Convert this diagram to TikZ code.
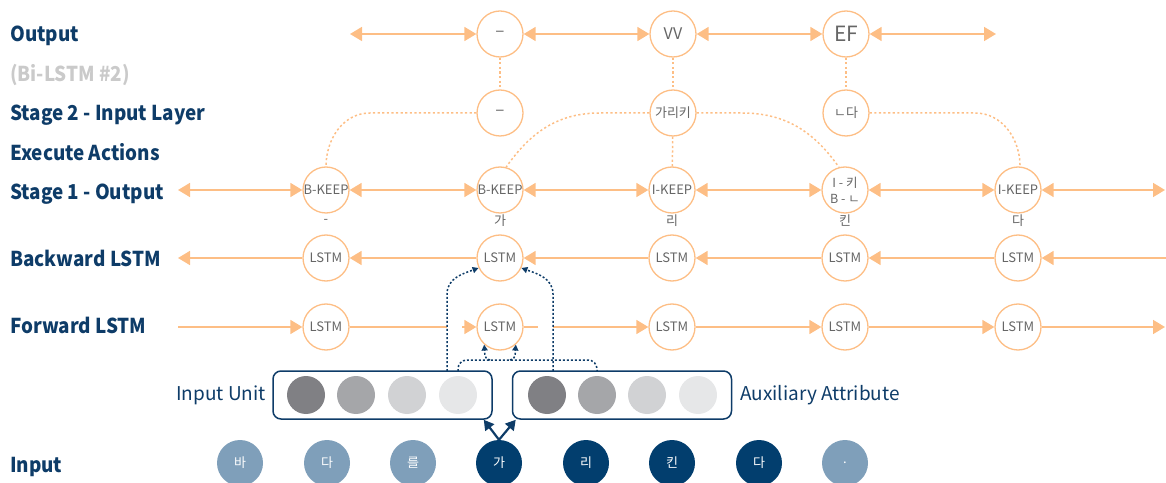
\documentclass[tikz,border=0pt]{standalone}
\usepackage{fontspec}
\usetikzlibrary{arrows.meta,calc}
\newfontfamily\kr{Noto Sans CJK KR}
\newfontfamily\krnarrow[FakeStretch=0.92]{Noto Sans CJK KR}
\definecolor{peach}{HTML}{FDBE85}
\definecolor{navy}{HTML}{0E3C68}
\definecolor{deep}{HTML}{023E6E}
\definecolor{steel}{HTML}{7F9FBA}
\definecolor{ink}{HTML}{666666}
\definecolor{mute}{HTML}{CACACA}
\definecolor{gA}{HTML}{808084}
\definecolor{gB}{HTML}{A5A6A9}
\definecolor{gC}{HTML}{D1D2D4}
\definecolor{gD}{HTML}{E6E7E8}
\begin{document}
\begin{tikzpicture}[x=1pt,y=1pt,
  cell/.style={circle, draw=peach, line width=1.3pt, fill=white, minimum size=46pt,
    inner sep=0pt, text=ink, font=\kr\fontsize{13}{14}\selectfont},
  flow/.style={peach, line width=1.6pt, -{Triangle[length=12pt,width=14pt]}},
  both/.style={peach, line width=1.6pt, {Triangle[length=12pt,width=14pt]}-{Triangle[length=12pt,width=14pt]}},
  plain/.style={peach, line width=1.6pt},
  trace/.style={peach, line width=1.5pt, dash pattern=on 2.2pt off 2.4pt},
  feed/.style={navy, line width=1.5pt, dash pattern=on 2pt off 2pt},
  side/.style={anchor=west, text=navy, text height=15pt, text depth=4pt, inner sep=0pt,
    font=\krnarrow\bfseries\fontsize{20.5}{22}\selectfont},
  tok/.style={circle, minimum size=46pt, inner sep=0pt, text=white, font=\kr\fontsize{13}{14}\selectfont},
  bead/.style={circle, minimum size=38pt, inner sep=0pt},
  panel/.style={draw=navy, line width=1.5pt, rounded corners=8pt, minimum width=219pt,
    minimum height=48pt, inner sep=0pt},
  note/.style={text=navy, inner sep=0pt, font=\kr\fontsize{19}{21}\selectfont},
  under/.style={text=ink, inner sep=0pt, font=\kr\fontsize{13}{14}\selectfont}
]
\useasboundingbox (0,0) rectangle (1166,482);

% row titles
\node[side] (tOut) at (10,446) {Output};
\node[side, text=mute] (tBi) at (10,406) {(Bi-LSTM \#2)};
\node[side] (tS2) at (10,367) {Stage 2 - Input Layer};
\node[side] (tEx) at (10,327) {Execute Actions};
\node[side] (tS1) at (10,288) {Stage 1 - Output};
\node[side] (tBw) at (10,221) {Backward LSTM};
\node[side] (tFw) at (10,154) {Forward LSTM};
\node[side] (tIn) at (10,15) {Input};

% output layer
\node[cell] (o2) at (500,448) {\fontsize{17}{18}\selectfont –};
\node[cell] (o3) at (673,448) {\fontsize{16}{17}\selectfont VV};
\node[cell] (o4) at (846,448) {\fontsize{21}{22}\selectfont EF};
\coordinate (oL) at (350,448);
\coordinate (oR) at (996,448);
\draw[both] (oL) -- (o2);
\draw[both] (o2) -- (o3);
\draw[both] (o3) -- (o4);
\draw[both] (o4) -- (oR);

% stage 2 input layer
\node[cell] (s2) at (500,369) {\fontsize{17}{18}\selectfont –};
\node[cell] (s3) at (673,369) {가리키};
\node[cell] (s4) at (846,369) {ㄴ다};
\draw[trace] (o2) -- (s2);
\draw[trace] (o3) -- (s3);
\draw[trace] (o4) -- (s4);

% stage 1 output
\node[cell] (a1) at (326,292) {B-KEEP};
\node[cell] (a2) at (500,292) {B-KEEP};
\node[cell] (a3) at (672,292) {I-KEEP};
\node[cell, align=center, font=\kr\fontsize{12.5}{16}\selectfont] (a4) at (845,292) {I - 키\\B - ㄴ};
\node[cell] (a5) at (1018,292) {I-KEEP};
\node[under] (u1) at (326,261) {-};
\node[under] (u2) at (500,261) {가};
\node[under] (u3) at (672,261) {리};
\node[under] (u4) at (845,261) {킨};
\node[under] (u5) at (1018,261) {다};
\coordinate (aL) at (178,292);
\coordinate (aR) at (1165,292);
\draw[both] (aL) -- (a1);
\draw[both] (a1) -- (a2);
\draw[both] (a2) -- (a3);
\draw[both] (a3) -- (a4);
\draw[both] (a4) -- (a5);
\draw[both] (a5) -- (aR);

% executed actions linking the two stages
\draw[trace] (s2.west) -- (370,369) to[out=180,in=90] (a1.north);
\draw[trace] (s3.west) -- (600,369) to[out=180,in=55] (a2.75);
\draw[trace] (s3.east) -- (742,369) to[out=0,in=125] (a4.105);
\draw[trace] (s4.east) -- (975,369) to[out=0,in=90] (a5.85);
\draw[trace] (s3) -- (a3);

% backward LSTM
\foreach \i/\x in {1/326,2/500,3/672,4/845,5/1018}
  \node[cell] (b\i) at (\x,224) {LSTM};
\coordinate (bL) at (178,224);
\coordinate (bR) at (1166,224);
\draw[flow] (bR) -- (b5);
\draw[flow] (b5) -- (b4);
\draw[flow] (b4) -- (b3);
\draw[flow] (b3) -- (b2);
\draw[flow] (b2) -- (b1);
\draw[flow] (b1) -- (bL);

% forward LSTM
\foreach \i/\x in {1/326,2/500,3/672,4/845,5/1018}
  \node[cell] (f\i) at (\x,155) {LSTM};
\coordinate (fL) at (178,155);
\coordinate (fR) at (1165,155);
\coordinate (g1) at (447,155);
\coordinate (g2) at (462,155);
\coordinate (g3) at (538,155);
\coordinate (g4) at (553,155);
\draw[flow] (fL) -- (f1);
\draw[plain] (f1) -- (g1);
\draw[flow] (g2) -- (f2);
\draw[plain] (f2) -- (g3);
\draw[flow] (g4) -- (f3);
\draw[flow] (f3) -- (f4);
\draw[flow] (f4) -- (f5);
\draw[flow] (f5) -- (fR);

% embedding panels
\node[panel] (iu) at (382.5,87) {};
\node[panel] (ax) at (622,87) {};
\node[bead, fill=gA] (p1) at (306,87) {};
\node[bead, fill=gB] (p2) at (356,87) {};
\node[bead, fill=gC] (p3) at (407,87) {};
\node[bead, fill=gD] (p4) at (458,87) {};
\node[bead, fill=gA] (q1) at (547,87) {};
\node[bead, fill=gB] (q2) at (597,87) {};
\node[bead, fill=gC] (q3) at (647,87) {};
\node[bead, fill=gD] (q4) at (698,87) {};
\node[note, anchor=east] (lu) at (266,87) {Input Unit};
\node[note, anchor=west] (la) at (740,87) {Auxiliary Attribute};

% feeds into the LSTM cells
\coordinate (v1) at (447,111);
\coordinate (v2) at (553,111);
\coordinate (h1) at (458,111);
\coordinate (h2) at (597,111);
\draw[feed, -{Triangle[length=6pt,width=6pt]}] (v1) -- (447,188) to[out=90,in=200] (b2.205);
\draw[feed, -{Triangle[length=6pt,width=6pt]}] (v2) -- (553,188) to[out=90,in=-20] (b2.-25);
\draw[feed, rounded corners=9pt] (h1) |- (h2 |- 0,122) -- (h2);
\draw[feed, -{Triangle[length=6pt,width=6pt]}] (490,122) to[out=180,in=-85] (f2.228);
\draw[feed, -{Triangle[length=6pt,width=6pt]}] (510,122) to[out=0,in=-95] (f2.-48);

% input tokens
\node[tok, fill=steel] (i1) at (240,19) {바};
\node[tok, fill=steel] (i2) at (327,19) {다};
\node[tok, fill=steel] (i3) at (413,19) {를};
\node[tok, fill=deep] (i4) at (499,19) {가};
\node[tok, fill=deep] (i5) at (586,19) {리};
\node[tok, fill=deep] (i6) at (672,19) {킨};
\node[tok, fill=deep] (i7) at (759,19) {다};
\node[tok, fill=steel] (i8) at (845,19) {.};
\coordinate (k1) at ($(iu.south east)+(-9,0)$);
\coordinate (k2) at ($(ax.south west)+(4,0)$);
\draw[navy, line width=2.2pt, -{Triangle[length=10pt,width=11pt]}] (i4.north) -- (k1);
\draw[navy, line width=2.2pt, -{Triangle[length=10pt,width=11pt]}] (i4.north) -- (k2);
\end{tikzpicture}
\end{document}
